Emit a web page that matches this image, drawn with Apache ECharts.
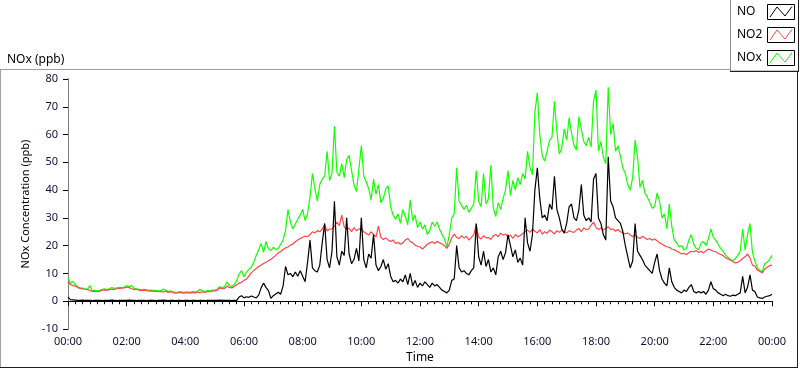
<!DOCTYPE html>
<html>
<head>
<meta charset="utf-8">
<script src="https://cdn.jsdelivr.net/npm/echarts@6/dist/echarts.min.js"></script>
<style>
html, body { margin: 0; padding: 0; background: #fff; }
#chart { width: 800px; height: 369px; }
</style>
</head>
<body>
<div id="chart"></div>
<script>
// 5-minute readings, 00:00 .. 24:00 (289 values each)
const STEP = 5;

const noValues = [
  1.5, 0.6, 0.5, 0.4, 0.3, 0.3, 0.4, 0.3, 0.3, 0.3, 0.2, 0.3,
  0.3, 0.3, 0.2, 0.3, 0.3, 0.3, 0.4, 0.3, 0.2, 0.3, 0.3, 0.3,
  0.3, 0.4, 0.3, 0.3, 0.2, 0.3, 0.3, 0.3, 0.2, 0.3, 0.3, 0.3,
  0.2, 0.3, 0.3, 0.4, 0.3, 0.2, 0.3, 0.3, 0.2, 0.3, 0.3, 0.2,
  0.3, 0.3, 0.2, 0.3, 0.3, 0.2, 0.3, 0.3, 0.2, 0.3, 0.3, 0.3,
  0.3, 0.3, 0.4, 0.3, 0.3, 0.3, 0.3, 0.2, 0.3, 0.3, 1.5, 2.0,
  1.2, 1.6, 1.4, 1.9, 1.5, 1.2, 2.2, 4.8, 6.5, 5.0, 3.8, 1.0,
  2.0, 2.6, 3.2, 2.5, 5.5, 12.5, 9.5, 10.0, 8.8, 10.5, 9.0, 11.0,
  9.0, 7.0, 14.0, 22.0, 12.0, 11.0, 10.5, 13.0, 21.0, 28.0, 15.0, 12.0,
  18.0, 36.0, 16.0, 13.0, 18.0, 16.5, 30.0, 17.0, 13.5, 15.0, 19.0, 14.5,
  30.0, 15.0, 12.0, 17.0, 15.5, 24.0, 13.0, 11.0, 12.5, 15.0, 11.5, 13.5,
  9.0, 7.0, 7.5, 6.5, 8.0, 7.0, 9.5, 6.0, 10.0, 5.5, 7.5, 5.0,
  6.5, 5.5, 7.0, 6.0, 5.0, 6.5, 5.5, 6.0, 5.0, 4.0, 3.5, 3.0,
  4.0, 7.5, 8.0, 20.0, 12.0, 10.5, 11.0, 10.0, 9.5, 11.0, 12.0, 28.0,
  16.0, 13.0, 18.0, 12.5, 15.0, 10.5, 12.0, 9.5, 16.0, 18.0, 15.0, 17.5,
  24.0, 20.0, 16.0, 18.5, 14.0, 15.5, 13.0, 30.0, 21.0, 18.0, 24.0, 40.0,
  48.0, 37.0, 30.0, 31.0, 29.0, 35.0, 33.0, 45.0, 33.0, 30.0, 26.0, 24.5,
  28.0, 34.0, 35.0, 30.0, 29.0, 33.0, 42.0, 31.0, 29.0, 30.0, 28.5, 44.0,
  46.0, 30.0, 28.0, 24.0, 22.0, 52.0, 36.0, 34.0, 30.0, 29.0, 28.0, 25.0,
  20.0, 16.0, 12.0, 14.5, 28.0, 18.0, 16.5, 15.0, 13.0, 12.0, 11.0, 10.0,
  14.0, 17.0, 11.0, 8.0, 6.5, 5.5, 12.0, 7.0, 5.0, 4.0, 3.5, 3.0,
  4.0, 3.5, 5.0, 6.0, 3.5, 3.0, 3.5, 3.0, 3.5, 2.5, 4.0, 7.0,
  4.5, 4.0, 3.0, 2.5, 2.0, 2.5, 2.0, 1.8, 2.2, 2.0, 2.5, 3.0,
  9.0, 3.0, 5.0, 9.5, 4.0, 3.5, 1.5, 1.2, 1.0, 1.5, 1.8, 2.0,
  2.5
];

const no2Values = [
  7.0, 6.0, 5.6, 5.5, 4.9, 4.6, 4.4, 4.3, 4.2, 3.9, 3.5, 3.6,
  3.4, 3.6, 4.0, 4.1, 3.9, 4.2, 4.3, 4.3, 4.5, 4.6, 4.7, 4.8,
  5.1, 4.9, 4.5, 4.2, 4.3, 4.0, 3.8, 4.0, 3.9, 3.6, 3.7, 3.5,
  3.6, 3.4, 3.5, 3.3, 3.6, 3.2, 3.4, 3.1, 2.9, 3.0, 3.2, 2.9,
  3.0, 3.1, 2.9, 3.2, 3.0, 3.3, 3.1, 3.4, 3.2, 3.5, 3.4, 3.6,
  3.7, 3.9, 4.8, 4.5, 4.6, 5.4, 5.0, 4.8, 5.3, 5.9, 6.5, 6.8,
  7.5, 8.0, 9.0, 10.2, 11.0, 11.8, 12.5, 13.0, 13.6, 14.0, 14.6, 15.0,
  15.8, 16.5, 17.4, 17.8, 18.6, 19.2, 19.5, 20.2, 20.6, 21.4, 22.0, 22.6,
  23.0, 23.5, 23.2, 24.0, 25.0, 24.6, 25.4, 25.0, 26.0, 27.5, 25.3, 26.0,
  26.0, 27.0, 28.5, 27.2, 31.0, 26.8, 25.8, 26.3, 25.0, 26.5, 25.4, 26.0,
  26.2, 25.0, 24.4, 23.8, 25.0, 24.0, 23.2, 27.0, 23.0, 22.2, 22.8, 22.0,
  21.5, 22.0, 20.8, 21.2, 20.5, 21.0, 22.0, 22.6, 21.5, 21.0, 20.2, 19.8,
  19.5, 18.8, 19.6, 20.5, 21.0, 21.4, 20.8, 21.6, 21.0, 20.6, 20.0, 19.0,
  20.5, 22.8, 24.2, 23.0, 22.5, 23.6, 22.8, 23.4, 22.0, 23.0, 24.0, 27.5,
  23.0, 22.4, 23.6, 22.8, 23.0, 22.2, 23.6, 24.0, 23.2, 24.5, 23.8, 24.2,
  23.0, 23.8, 22.6, 24.0, 23.2, 23.6, 24.4, 25.0, 25.6, 24.8, 26.0, 25.2,
  24.6, 25.8, 24.2, 25.0, 24.4, 25.6, 25.0, 24.2, 25.4, 24.8, 25.6, 25.0,
  24.6, 25.4, 25.0, 24.8, 25.6, 26.2, 25.0, 26.4, 25.8, 26.0, 27.4, 28.5,
  26.5, 25.8, 26.4, 25.6, 26.2, 26.8, 25.8, 26.0, 25.2, 25.8, 25.0, 24.6,
  24.2, 24.6, 23.8, 23.2, 24.0, 23.0, 22.6, 23.4, 22.8, 22.2, 22.6, 22.0,
  22.4, 21.8, 21.0, 20.6, 20.0, 19.6, 19.4, 18.8, 18.6, 18.0, 17.6, 17.0,
  17.2, 16.8, 17.5, 18.0, 17.8, 18.2, 17.6, 18.0, 17.4, 18.2, 18.8, 18.4,
  18.0, 17.8, 17.2, 16.8, 16.4, 15.6, 15.2, 14.8, 14.2, 13.8, 14.0, 14.6,
  15.4, 16.0, 17.0, 15.5, 13.0, 12.6, 11.2, 10.8, 10.2, 11.5, 12.2, 12.8,
  13.0
];

const noxValues = [
  8.6, 6.4, 7.2, 5.9, 5.2, 4.8, 4.7, 4.5, 4.4, 5.6, 3.8, 3.9,
  3.7, 3.9, 4.3, 4.5, 4.2, 4.6, 4.9, 4.6, 4.8, 5.0, 4.9, 5.1,
  5.6, 5.2, 5.6, 4.6, 4.5, 4.3, 4.1, 4.3, 4.2, 3.9, 4.0, 3.8,
  3.9, 3.7, 3.8, 4.4, 3.9, 3.5, 3.7, 3.4, 3.2, 3.3, 3.5, 3.2,
  3.3, 3.4, 3.2, 3.5, 3.3, 3.6, 4.3, 3.7, 3.5, 3.8, 3.7, 4.0,
  4.0, 4.3, 5.2, 4.9, 5.1, 7.0, 5.6, 5.3, 6.0, 7.4, 9.8, 11.0,
  8.8, 10.5, 11.5, 12.2, 14.0, 16.5, 18.5, 20.8, 17.6, 21.5, 19.0, 18.2,
  19.5, 18.6, 19.0, 20.5, 22.0, 25.5, 33.0, 28.5, 26.0, 27.8, 29.5, 31.0,
  33.0, 29.0, 31.5, 37.5, 46.0, 40.5, 36.0, 42.0, 44.0, 45.0, 54.0, 43.5,
  46.0, 63.0, 46.5, 45.0, 49.5, 44.5, 51.0, 52.5, 47.0, 42.0, 39.5, 47.5,
  56.0, 45.0, 43.0, 40.5, 36.5, 44.0, 38.5, 42.0, 35.5, 37.0, 40.5, 41.5,
  34.0, 31.0, 29.5, 31.5, 28.0, 33.0, 30.5, 27.5, 36.5, 29.0, 31.0, 26.5,
  28.5, 26.0, 27.5, 24.0, 25.5, 28.5, 27.0, 28.5, 26.0, 24.0, 22.5, 19.5,
  24.0, 30.0, 31.5, 48.0, 36.0, 34.5, 33.0, 34.5, 32.0, 33.5, 35.0, 47.0,
  36.0, 34.0, 46.0, 35.0, 37.0, 49.0, 33.5, 30.5, 35.5, 33.0, 37.0, 40.0,
  47.0, 38.0, 43.5, 40.0, 44.5, 42.0, 46.0, 44.0, 54.0, 48.0, 45.5, 68.0,
  75.0, 60.0, 52.5, 50.5, 54.0, 58.0, 59.0, 72.0, 61.0, 53.0, 55.0, 62.0,
  58.0, 66.0, 60.5, 56.0, 54.5, 66.5, 62.0, 57.5, 56.0, 59.0, 55.5, 72.0,
  76.0, 54.0, 57.5, 52.0, 49.5, 77.0, 60.0, 64.0, 54.0, 56.0, 52.0, 48.0,
  46.0, 42.0, 40.0, 44.5, 58.0, 52.0, 41.0, 43.5, 39.0, 37.5, 35.5, 33.5,
  34.0, 39.0, 36.0, 30.0, 31.5, 26.0, 35.0, 27.0, 22.0, 21.0, 19.5, 20.0,
  18.5, 19.0, 22.0, 24.0, 20.5, 19.0, 18.5, 21.0, 21.5, 20.0, 22.5, 26.0,
  23.0, 22.0, 20.5, 19.0, 18.0, 16.5, 15.8, 15.0, 14.6, 15.4, 16.5, 18.0,
  26.0, 18.5, 24.0, 28.0, 17.5, 14.5, 12.0, 11.0, 10.6, 13.5, 14.0, 15.0,
  16.5
];

const seriesNames = ['NO', 'NO2', 'NOx'];
const seriesColors = ['#000000', '#ff4646', '#14ff00'];

const FONT = '"Noto Sans", "DejaVu Sans", sans-serif';
const pad = n => String(n).padStart(2, '0');
const fmtTime = m => pad(Math.floor(m / 60) % 24) + ':' + pad(m % 60);
const toPairs = vals => vals.map((v, i) => [i * STEP, v]);

// LabVIEW style legend panel, top right
const legendGraphics = [
  { type: 'rect', shape: { x: 730.5, y: -1, width: 68, height: 72 }, style: { fill: '#fff', stroke: '#909090' } },
  { type: 'line', shape: { x1: 730, y1: 71.5, x2: 799, y2: 71.5 }, style: { stroke: '#202020' } },
  { type: 'line', shape: { x1: 798.5, y1: 0, x2: 798.5, y2: 72 }, style: { stroke: '#202020' } }
];
seriesNames.forEach((name, i) => {
  const top = 4 + i * 23;
  legendGraphics.push(
    { type: 'text', x: 737, y: top + 8, style: { text: name, font: '12px ' + FONT, fill: '#000', verticalAlign: 'middle' } },
    { type: 'rect', shape: { x: 767.5, y: top + 0.5, width: 27, height: 15 }, style: { fill: '#fff', stroke: '#000' } },
    { type: 'polyline', shape: { points: [[770, top + 13], [777, top + 3], [785, top + 12], [792, top + 2.5]] }, style: { stroke: seriesColors[i], fill: null, lineWidth: 1 } }
  );
});

const frameGraphics = [
  { type: 'line', shape: { x1: 0, y1: 69.5, x2: 730, y2: 69.5 }, style: { stroke: '#a0a0a0' } },
  { type: 'line', shape: { x1: 0.5, y1: 69.5, x2: 0.5, y2: 368 }, style: { stroke: '#a0a0a0' } },
  { type: 'line', shape: { x1: 0, y1: 367.5, x2: 798, y2: 367.5 }, style: { stroke: '#202020' } },
  { type: 'line', shape: { x1: 797.5, y1: 72, x2: 797.5, y2: 368 }, style: { stroke: '#202020' } }
];

const axisText = { fontFamily: FONT, fontSize: 11, color: '#10103a' };

const chart = echarts.init(document.getElementById('chart'));
chart.setOption({
  animation: false,
  backgroundColor: '#fff',
  title: {
    text: 'NOx (ppb)', left: 2, top: 49,
    textStyle: { fontFamily: FONT, fontSize: 12, fontWeight: 'normal', color: '#000' }
  },
  grid: { left: 68, right: 28, top: 79, bottom: 38 },
  xAxis: [{
    type: 'value', min: 0, max: 1440, interval: 120,
    name: 'Time', nameLocation: 'middle', nameGap: 23,
    nameTextStyle: { fontFamily: FONT, fontSize: 12, color: '#000' },
    axisLine: { lineStyle: { color: '#808080', width: 1 } },
    axisTick: { length: 5, lineStyle: { color: '#000' } },
    minorTick: { show: true, splitNumber: 8, length: 3, lineStyle: { color: '#000' } },
    axisLabel: Object.assign({ margin: 7, formatter: fmtTime }, axisText),
    splitLine: { show: false }, minorSplitLine: { show: false }
  }, {
    type: 'value', position: 'top', min: 0, max: 1440,
    axisLine: { lineStyle: { color: '#000', width: 1 } },
    axisTick: { show: false }, axisLabel: { show: false }, splitLine: { show: false }
  }],
  yAxis: [{
    type: 'value', min: -10, max: 80, interval: 10,
    name: 'NOx Concentration (ppb)', nameLocation: 'middle', nameGap: 20, nameRotate: 90,
    nameTextStyle: { fontFamily: FONT, fontSize: 11, color: '#000' },
    axisLine: { show: true, lineStyle: { color: '#000', width: 1 } },
    axisTick: { show: true, length: 5, lineStyle: { color: '#000' } },
    axisLabel: Object.assign({ margin: 10 }, axisText),
    splitLine: { show: false }
  }, {
    type: 'value', position: 'right', min: -10, max: 80,
    axisLine: { show: true, lineStyle: { color: '#808080', width: 1 } },
    axisTick: { show: false }, axisLabel: { show: false }, splitLine: { show: false }
  }],
  series: [
    { name: 'NOx', type: 'line', data: toPairs(noxValues), showSymbol: false, symbol: 'none',
      lineStyle: { color: seriesColors[2], width: 1.2 }, itemStyle: { color: seriesColors[2] } },
    { name: 'NO2', type: 'line', data: toPairs(no2Values), showSymbol: false, symbol: 'none',
      lineStyle: { color: seriesColors[1], width: 1.2 }, itemStyle: { color: seriesColors[1] } },
    { name: 'NO', type: 'line', data: toPairs(noValues), showSymbol: false, symbol: 'none',
      lineStyle: { color: seriesColors[0], width: 1.2 }, itemStyle: { color: seriesColors[0] } }
  ],
  graphic: frameGraphics.concat(legendGraphics)
});
</script>
</body>
</html>
